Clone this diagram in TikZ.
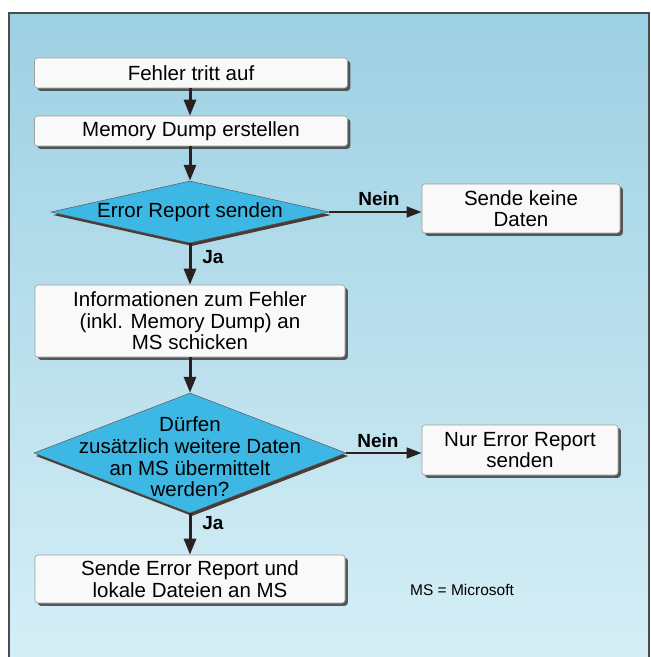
\documentclass[tikz,border=0pt]{standalone}
\usepackage{fontspec}
\setmainfont{Liberation Sans}
\usetikzlibrary{shapes.geometric,shadows,arrows.meta}
\definecolor{panelTop}{HTML}{9DD0E3}
\definecolor{panelBot}{HTML}{D6EFF6}
\definecolor{diaBlue}{HTML}{3DB8E4}
\definecolor{arrowCol}{HTML}{2A2020}
\definecolor{shadeCol}{HTML}{4A3C34}
\newcommand{\boxfont}{\fontsize{20.5}{21.6}\selectfont}
\begin{document}
\begin{tikzpicture}[x=1pt,y=-1pt,
  box/.style={draw=gray!75, line width=0.6pt, rounded corners=3pt, fill=white!95!gray,
    align=center, inner sep=0pt, font=\boxfont,
    drop shadow={shadow xshift=2.8pt, shadow yshift=-2.8pt, fill=black!75, opacity=0.85}},
  dia/.style={shape=diamond, draw=black!65, line width=0.5pt, fill=diaBlue, inner sep=0pt,
    drop shadow={shadow xshift=2pt, shadow yshift=-3pt, fill=shadeCol, opacity=1}},
  diatext/.style={align=center, inner sep=0pt, font=\boxfont},
  arr/.style={line width=3pt, draw=arrowCol, -{Triangle[length=16pt,width=12pt]}},
  narr/.style={line width=2.8pt, draw=arrowCol, -{Triangle[length=15pt,width=10.5pt]}},
  lbl/.style={inner sep=0pt, font=\fontsize{19}{20}\selectfont\bfseries, text=black}
]
\useasboundingbox (0,0) rectangle (651,657);
% panel
\shade[top color=panelTop, bottom color=panelBot] (9,13) rectangle (649,665);
\draw[line width=1.4pt, draw=black!70] (9,665) -- (9,13) -- (649,13) -- (649,665);

% nodes
\node[box, minimum width=313pt, minimum height=30pt] (b1) at (191,73) {Fehler tritt auf};
\node[box, minimum width=313pt, minimum height=30pt] (b2) at (191,131) {Memory Dump erstellen};
\node[dia, minimum width=278pt, minimum height=62pt] (d1) at (190,212) {};
\node[diatext] (d1t) at (d1.center) {Error Report senden};
\node[box, minimum width=198pt, minimum height=49pt] (n1) at (521,208.5) {Sende keine\\Daten};
\node[box, minimum width=310pt, minimum height=72pt] (b3) at (190,321) {Informationen zum Fehler\\(inkl. Memory Dump) an\\MS schicken};
\node[dia, minimum width=312pt, minimum height=120pt] (d2) at (190,453) {};
\node[diatext] (d2t) at (190,457) {Dürfen\\zusätzlich weitere Daten\\an MS übermittelt\\werden?};
\node[box, minimum width=196pt, minimum height=50pt] (n2) at (520,450) {Nur Error Report\\senden};
\node[box, minimum width=310pt, minimum height=48pt] (b5) at (190,579) {Sende Error Report und\\lokale Dateien an MS};
\node[inner sep=0pt, font=\fontsize{15.5}{17}\selectfont] (ms) at (462,590) {MS = Microsoft};

% labels
\node[lbl] (nein1) at (379,199) {Nein};
\node[lbl] (ja1) at (213,257) {Ja};
\node[lbl] (nein2) at (378,441) {Nein};
\node[lbl] (ja2) at (213,523) {Ja};

% connectors
\draw[arr] (b1.south -| d1.center) -- (b2.north -| d1.center);
\draw[arr] (b2.south -| d1.center) -- (d1.north);
\draw[arr] (d1.south) -- (b3.north -| d1.south);
\draw[narr] (d1.east) -- (d1.east -| n1.west);
\draw[arr] (b3.south -| d2.center) -- (d2.north);
\draw[arr] (d2.south) -- (b5.north -| d2.south);
\draw[narr] (d2.east) -- (d2.east -| n2.west);
\end{tikzpicture}
\end{document}
